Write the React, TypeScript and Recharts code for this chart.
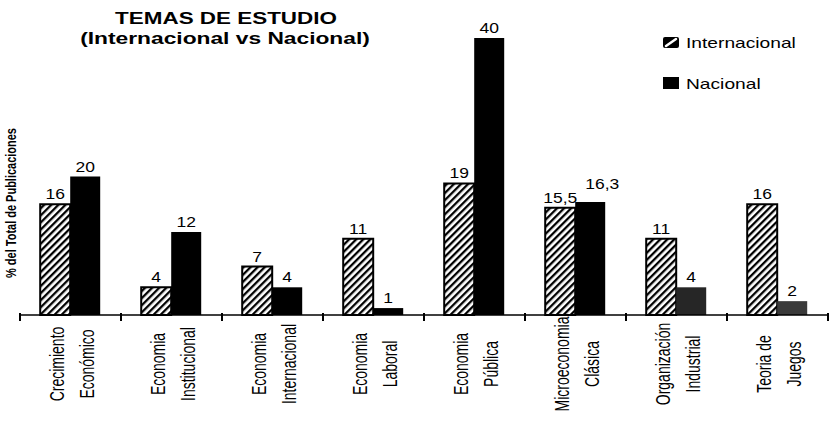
import { Bar, BarChart, Cell, LabelList, Legend, XAxis, YAxis } from 'recharts'

// Topics (two lines each, split on \n)
const categories = [
  'Crecimiento\nEconómico',
  'Economia\nInstitucional',
  'Economia\nInternacional',
  'Economia\nLaboral',
  'Economia\nPública',
  'Microeconomia\nClásica',
  'Organización\nIndustrial',
  'Teoria de\nJuegos',
]

// % of total publications
const internacional = [16, 4, 7, 11, 19, 15.5, 11, 16]
const nacional = [20, 12, 4, 1, 40, 16.3, 4, 2]

const seriesNames = ['Internacional', 'Nacional']

// scanned image is a bit lighter on the last bars
const nacionalFills = ['#000', '#000', '#000', '#000', '#000', '#000', '#262626', '#3a3a3a']

const W = 835
const H = 430
const MARGIN = { top: 38, right: 7, left: 20, bottom: 0 }
const BAND = (W - MARGIN.left - MARGIN.right) / categories.length
const FONT = '"Liberation Sans", Arial, sans-serif'

const chartData = categories.map((tema, i) => ({
  tema,
  internacional: internacional[i],
  nacional: nacional[i],
}))

const fmt = (v: number) => String(v).replace('.', ',')

function CategoryTick(props: any) {
  const { x, y, payload, index } = props
  const lines = String(payload.value).split('\n')
  const half = BAND / 2
  return (
    <g>
      <line x1={x - half} x2={x - half} y1={y - 2} y2={y + 6} stroke="#000" strokeWidth={2} />
      {index === categories.length - 1 && (
        <line x1={x + half} x2={x + half} y1={y - 2} y2={y + 6} stroke="#000" strokeWidth={2} />
      )}
      {lines.map((ln, i) => (
        <text
          key={i}
          transform={`translate(${x + (i === 0 ? -7 : 23)},${y + 49}) scale(1.5,1) rotate(-90)`}
          textAnchor="middle"
          fontSize={14}
          fontFamily={FONT}
          fill="#000"
        >
          {ln}
        </text>
      ))}
    </g>
  )
}

const valueLabel = (series: 'internacional' | 'nacional') => (props: any) => {
  const { x, y, width, value, index } = props
  let cx = x + width / 2
  let cy = y - 5
  // nudge the label when both bars are about the same height
  if (series === 'nacional' && Math.abs(nacional[index] - internacional[index]) < 2) {
    cx += 12
    cy -= 8
  }
  return (
    <text
      transform={`translate(${cx},${cy}) scale(1.25,1)`}
      textAnchor="middle"
      fontSize={14}
      fontFamily={FONT}
      fill="#000"
    >
      {fmt(value)}
    </text>
  )
}

function LegendBox() {
  return (
    <svg width={180} height={70}>
      <rect x={8} y={9} width={16} height={11} rx={2} fill="#000" />
      <line x1={11} y1={18} x2={21} y2={11} stroke="#fff" strokeWidth={2.5} strokeLinecap="round" />
      <text transform="translate(31,20) scale(1.28,1)" fontSize={15} fontFamily={FONT} fill="#000">
        {seriesNames[0]}
      </text>
      <rect x={8} y={49} width={16} height={12} fill="#000" />
      <text transform="translate(31,61) scale(1.28,1)" fontSize={15} fontFamily={FONT} fill="#000">
        {seriesNames[1]}
      </text>
    </svg>
  )
}

export default function App() {
  return (
    <div style={{ position: 'absolute', left: 0, top: 0, width: W, height: H, background: '#fff' }}>
      <BarChart
        width={W}
        height={H}
        data={chartData}
        margin={MARGIN}
        barCategoryGap="20%"
        barGap={0}
      >
        <defs>
          <pattern id="hatchInt" patternUnits="userSpaceOnUse" width={5} height={5} patternTransform="rotate(45)">
            <rect width={5} height={5} fill="#fff" />
            <rect x={0} y={0} width={2.3} height={5} fill="#000" />
          </pattern>
        </defs>
        <XAxis
          dataKey="tema"
          height={115}
          interval={0}
          axisLine={{ stroke: '#000', strokeWidth: 1.5 }}
          tickLine={false}
          tickSize={0}
          tickMargin={0}
          tick={<CategoryTick />}
        />
        <YAxis hide domain={[0, 40]} />
        <Legend
          layout="vertical"
          align="center"
          verticalAlign="middle"
          content={() => <LegendBox />}
          wrapperStyle={{ position: 'absolute', left: 655, top: 28, width: 180 }}
        />
        <Bar
          dataKey="internacional"
          name={seriesNames[0]}
          fill="url(#hatchInt)"
          stroke="#000"
          strokeWidth={2}
          isAnimationActive={false}
        >
          <LabelList dataKey="internacional" content={valueLabel('internacional')} />
        </Bar>
        <Bar dataKey="nacional" name={seriesNames[1]} fill="#000" isAnimationActive={false}>
          {chartData.map((_, i) => (
            <Cell key={i} fill={nacionalFills[i]} />
          ))}
          <LabelList dataKey="nacional" content={valueLabel('nacional')} />
        </Bar>
      </BarChart>

      {/* title and y-axis caption */}
      <svg width={W} height={H} style={{ position: 'absolute', left: 0, top: 0, pointerEvents: 'none' }}>
        <g fontFamily={FONT} fontWeight="bold" fill="#000">
          <text transform="translate(226,24) scale(1.36,1)" textAnchor="middle" fontSize={16.5}>
            TEMAS DE ESTUDIO
          </text>
          <text transform="translate(225,44) scale(1.38,1)" textAnchor="middle" fontSize={16.5}>
            (Internacional vs Nacional)
          </text>
          <text transform="translate(16,203) scale(1.35,1) rotate(-90)" textAnchor="middle" fontSize={11}>
            % del Total de Publicaciones
          </text>
        </g>
      </svg>
    </div>
  )
}
